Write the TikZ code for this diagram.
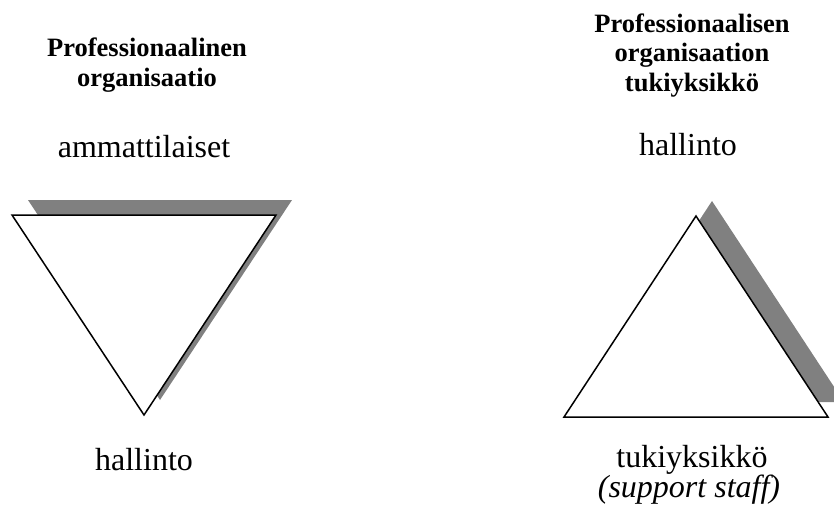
\documentclass[tikz,border=0pt]{standalone}
\usepackage{fontspec}
\setmainfont{Liberation Serif}
\begin{document}
\begin{tikzpicture}[x=1pt, y=-1pt,
    tri/.style={draw, line width=1.5pt, line join=miter, fill=white},
    shadowtri/.style={fill=black!50},
    title/.style={font=\bfseries\fontsize{26.5}{29.5}\selectfont, align=center, inner sep=0pt},
    lbl/.style={font=\fontsize{32}{36}\selectfont, inner sep=0pt}]
    \useasboundingbox (0,0) rectangle (834,514);
    \clip (0,0) rectangle (834,514);

    % Left: inverted triangle with its shadow
    \fill[shadowtri] (28,200) -- (292,200) -- (160,400) -- cycle;
    \draw[tri] (12,215) -- (276,215) -- (144,415) -- cycle;

    % Right: upright triangle with its shadow
    \fill[shadowtri] (712,201) -- (844,402) -- (580,402) -- cycle;
    \draw[tri] (696,216) -- (828,417) -- (564,417) -- cycle;

    % Titles
    \node[title, anchor=base] (lefttitle) at (147,86) {Professionaalinen\\organisaatio};
    \node[title, anchor=base] (righttitle) at (692,91) {Professionaalisen\\organisaation\\tukiyksikkö};

    % Labels
    \node[lbl, anchor=base] (ammatti) at (144,157) {ammattilaiset};
    \node[lbl, anchor=base] (hallintoL) at (144,470) {hallinto};
    \node[lbl, anchor=base] (hallintoR) at (688,155) {hallinto};
    \node[lbl, anchor=base] (tuki) at (692,467) {tukiyksikkö};
    \node[lbl, anchor=base, font=\itshape\fontsize{32}{36}\selectfont] (support) at (689,497) {(support staff)};
\end{tikzpicture}
\end{document}
